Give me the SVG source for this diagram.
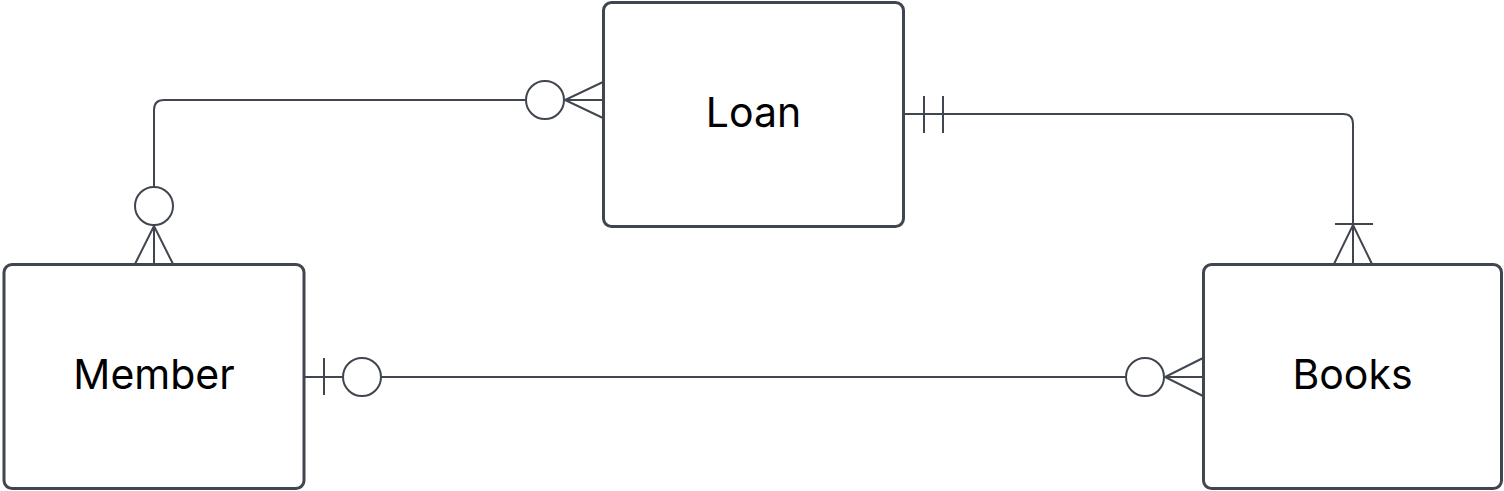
<svg xmlns="http://www.w3.org/2000/svg" width="1504" height="491" viewBox="0 0 1504 491">
<style>
.box{fill:#ffffff;stroke:#40464f;stroke-width:3}
.lbl{font-family:Inter,"Liberation Sans",sans-serif;font-size:41px;fill:#000000;text-anchor:middle}
.ln{fill:none;stroke:#40464f;stroke-width:2}
.mk{fill:#ffffff;stroke:#40464f;stroke-width:2}
</style>
<rect width="1504" height="491" fill="#ffffff"/>
<g id="connectors">
  <g id="loan-member">
    <path class="ln" d="M603,100 H164 Q154,100 154,110 V264"/>
    <path class="ln" d="M603,82 L565,100 L603,118"/>
    <circle class="mk" cx="545" cy="100" r="19"/>
    <path class="ln" d="M135,264 L154,226 L173,264"/>
    <circle class="mk" cx="154" cy="206" r="19"/>
  </g>
  <g id="loan-books">
    <path class="ln" d="M904,114 H1343 Q1353,114 1353,124 V264"/>
    <path class="ln" d="M924,96 V133 M943,96 V133"/>
    <path class="ln" d="M1334,264 L1353,225 L1372,264 M1335,224 H1373"/>
  </g>
  <g id="member-books">
    <path class="ln" d="M304,377 H1203"/>
    <path class="ln" d="M324,358 V395"/>
    <circle class="mk" cx="362" cy="377" r="19"/>
    <path class="ln" d="M1203,358 L1165,377 L1203,396"/>
    <circle class="mk" cx="1145" cy="377" r="19"/>
  </g>
</g>
<g id="node-loan">
  <rect class="box" x="603.5" y="2.5" width="300" height="224" rx="8"/>
  <text class="lbl" x="753.5" y="127">Loan</text>
</g>
<g id="node-member">
  <rect class="box" x="4" y="264.5" width="300" height="224" rx="8"/>
  <text class="lbl" x="154" y="389">Member</text>
</g>
<g id="node-books">
  <rect class="box" x="1203.5" y="264.5" width="298" height="224" rx="8"/>
  <text class="lbl" x="1352.5" y="389">Books</text>
</g>
</svg>
